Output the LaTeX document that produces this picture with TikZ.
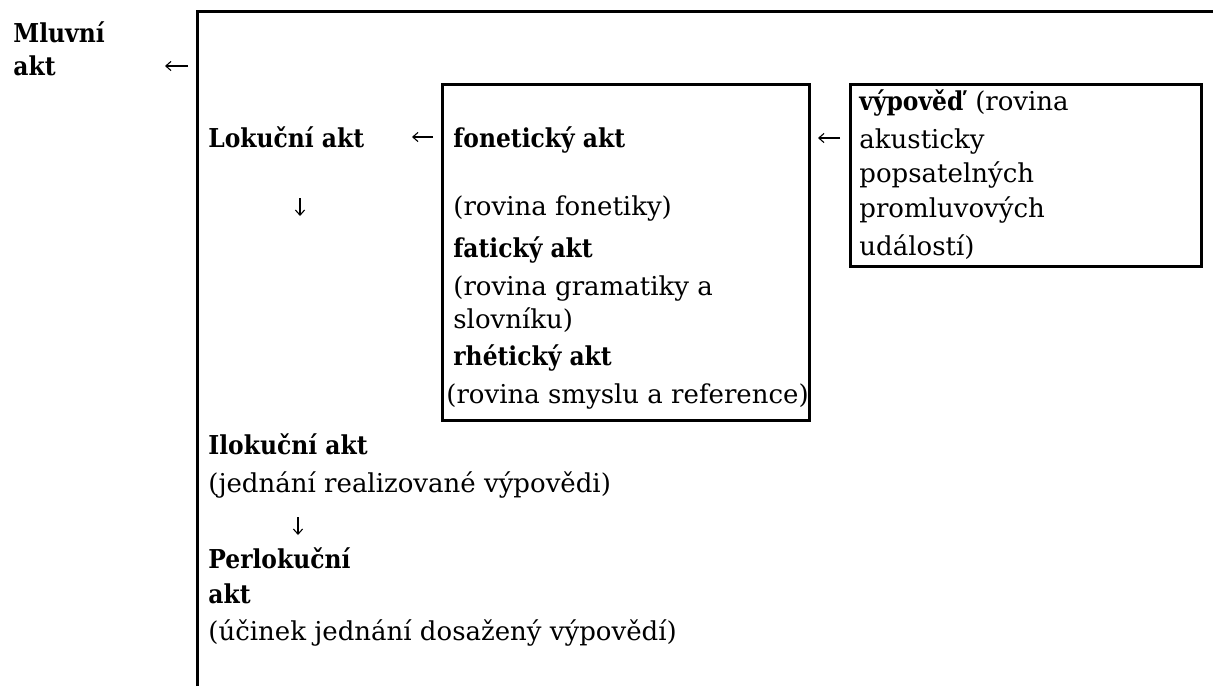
\documentclass[tikz,border=0pt]{standalone}
\usepackage{fontspec}
\setmainfont{DejaVu Serif}[BoldFeatures={FakeStretch=0.9}]
\usetikzlibrary{arrows.meta}
\begin{document}
\begin{tikzpicture}[x=0.5pt,y=-0.5pt,
  txt/.style={anchor=base west,inner sep=0pt,font=\fontsize{13}{15}\selectfont},
  bf/.style={anchor=base west,inner sep=0pt,font=\fontsize{13}{15}\selectfont\bfseries},
  frame/.style={line width=1.7pt},
  boxn/.style={draw,line width=1.7pt,anchor=north west,inner sep=0pt},
  arr/.style={line width=0.55pt,-{Straight Barb[length=2.6pt,width=4.6pt]}}]
\useasboundingbox (0,0) rectangle (1213,686);
% outer frame
\coordinate (fb) at (197.5,686);
\coordinate (fc) at (197.5,11.5);
\coordinate (fr) at (1213,11.5);
\draw[frame] (fb) -- (fc) -- (fr);
% boxes
\node[boxn,minimum width=183.5pt,minimum height=168pt] (box1) at (441,83) {};
\node[boxn,minimum width=175.5pt,minimum height=91pt] (box2) at (849,83) {};
% left column
\node[bf] (mluv1) at (13,42) {Mluvní};
\node[bf] (mluv2) at (13,75) {akt};
\node[bf] (lok) at (208,147) {Lokuční akt};
\node[bf] (ilok) at (208,454) {Ilokuční akt};
\node[txt] (ilokd) at (208,492) {(jednání realizované výpovědi)};
\node[bf] (perl1) at (208,568) {Perlokuční};
\node[bf] (perl2) at (208,603) {akt};
\node[txt] (perld) at (208,640) {(účinek jednání dosažený výpovědí)};
% box 1 content
\node[bf] (fon) at (453,147) {fonetický akt};
\node[txt] (fond) at (453,215) {(rovina fonetiky)};
\node[bf] (fat) at (453,257) {fatický akt};
\node[txt] (fatd1) at (453,295) {(rovina gramatiky a};
\node[txt] (fatd2) at (453,328) {slovníku)};
\node[bf] (rhe) at (453,365) {rhétický akt};
\node[txt] (rhed) at (446,403) {(rovina smyslu a reference)};
% box 2 content
\node[txt] (vyp1) at (859,110) {\textbf{výpověď} (rovina};
\node[txt] (vyp2) at (859,148) {akusticky};
\node[txt] (vyp3) at (859,182) {popsatelných};
\node[txt] (vyp4) at (859,217) {promluvových};
\node[txt] (vyp5) at (859,255) {událostí)};
% arrows
\coordinate (a1s) at (188,66); \coordinate (a1e) at (165,66);
\coordinate (a2s) at (433,137); \coordinate (a2e) at (412,137);
\coordinate (a3s) at (840,138); \coordinate (a3e) at (818,138);
\coordinate (d1s) at (300,198); \coordinate (d1e) at (300,216);
\coordinate (d2s) at (298,517); \coordinate (d2e) at (298,535);
\draw[arr] (a1s) -- (a1e);
\draw[arr] (a2s) -- (a2e);
\draw[arr] (a3s) -- (a3e);
\draw[arr] (d1s) -- (d1e);
\draw[arr] (d2s) -- (d2e);
\end{tikzpicture}
\end{document}
